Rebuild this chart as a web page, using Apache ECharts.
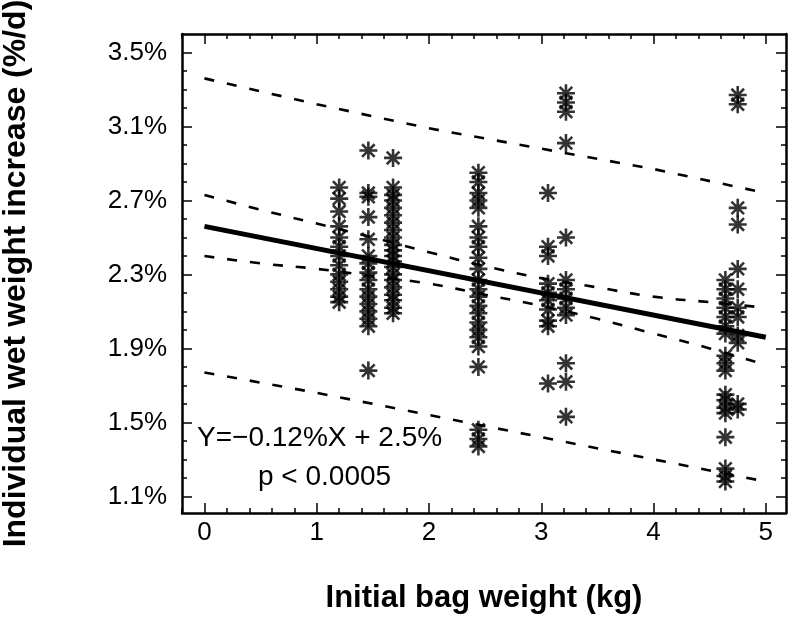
<!DOCTYPE html>
<html>
<head>
<meta charset="utf-8">
<script src="https://cdn.jsdelivr.net/npm/echarts@6/dist/echarts.min.js"></script>
<style>
  html, body { margin: 0; padding: 0; background: #fff; }
  #main { width: 796px; height: 626px; }
</style>
</head>
<body>
<div id="main"></div>
<script>
// tick values
const xMajor = [0, 1, 2, 3, 4, 5];
const xMinor = [-0.2, 0.2, 0.4, 0.6, 0.8, 1.2, 1.4, 1.6, 1.8, 2.2, 2.4, 2.6, 2.8, 3.2, 3.4, 3.6, 3.8, 4.2, 4.4, 4.6, 4.8];
const yMajor = [1.1, 1.5, 1.9, 2.3, 2.7, 3.1, 3.5];
const yMinor = [1.2, 1.3, 1.4, 1.6, 1.7, 1.8, 2.0, 2.1, 2.2, 2.4, 2.5, 2.6, 2.8, 2.9, 3.0, 3.2, 3.3, 3.4];

// observations, by initial bag weight (kg)
const bagWeights = [1.2, 1.46, 1.68, 2.44, 3.06, 3.22, 4.64, 4.75];
const growth = [
  [2.77, 2.71, 2.64, 2.56, 2.5, 2.45, 2.4, 2.35, 2.3, 2.26, 2.22, 2.18, 2.15],
  [2.97, 2.74, 2.72, 2.61, 2.49, 2.4, 2.36, 2.31, 2.27, 2.22, 2.18, 2.14, 2.1, 2.06, 2.02, 1.78],
  [2.93, 2.77, 2.73, 2.7, 2.66, 2.62, 2.58, 2.54, 2.5, 2.46, 2.43, 2.4, 2.37, 2.34, 2.3, 2.27, 2.23, 2.19, 2.16, 2.12, 2.09],
  [2.85, 2.8, 2.74, 2.7, 2.66, 2.56, 2.5, 2.45, 2.39, 2.33, 2.27, 2.22, 2.18, 2.13, 2.09, 2.04, 2.0, 1.96, 1.91, 1.8, 1.46, 1.41, 1.37],
  [2.74, 2.45, 2.4, 2.25, 2.2, 2.16, 2.11, 2.05, 2.02, 1.71],
  [3.28, 3.23, 3.18, 3.01, 2.5, 2.27, 2.22, 2.17, 2.12, 2.08, 1.82, 1.72, 1.53],
  [2.27, 2.22, 2.17, 2.12, 2.07, 2.02, 1.98, 1.86, 1.82, 1.78, 1.65, 1.62, 1.58, 1.55, 1.42, 1.25, 1.21, 1.18],
  [3.27, 3.22, 2.66, 2.57, 2.33, 2.22, 2.12, 2.07, 1.97, 1.93, 1.6, 1.57]
];

// regression line
const fitX = [0, 5];
const fitY = [2.56, 1.96];

// confidence and prediction bands
const bandX = [0, 0.5, 1, 1.5, 2, 2.5, 3, 3.5, 4, 4.5, 5];
const confUpper = [2.73, 2.65, 2.575, 2.5, 2.42, 2.345, 2.28, 2.23, 2.18, 2.15, 2.12];
const confLower = [2.4, 2.36, 2.33, 2.29, 2.25, 2.19, 2.13, 2.06, 1.98, 1.9, 1.81];
const predX = [0, 1, 2, 3, 4, 5];
const predUpper = [3.36, 3.22, 3.09, 2.98, 2.87, 2.74];
const predLower = [1.77, 1.66, 1.54, 1.42, 1.3, 1.18];

const font = "'Liberation Sans', Arial, sans-serif";
const ink = "#000";

const zip = (xs, ys) => xs.map((x, i) => [x, ys[i]]);
let points = [];
bagWeights.forEach((w, i) => {
  growth[i].forEach(v => points.push([w, v]));
});

const asterisk = "path://M10,0L10,20M0,10L20,10M3,3L17,17M3,17L17,3";

function xAx(pos, ticks, len, labels, line) {
  return {
    type: "value", position: pos, min: -0.2, max: 5.18,
    axisLine: { show: line, onZero: false, lineStyle: { color: ink, width: 2.5 } },
    axisTick: { show: true, inside: true, length: len, customValues: ticks, lineStyle: { color: ink, width: 1.5 } },
    axisLabel: labels ? { show: true, customValues: ticks, color: ink, fontFamily: font, fontSize: 26, margin: 7 } : { show: false },
    splitLine: { show: false }
  };
}
function yAx(pos, ticks, len, labels, line) {
  return {
    type: "value", position: pos, min: 1.01, max: 3.6,
    axisLine: { show: line, onZero: false, lineStyle: { color: ink, width: 2.5 } },
    axisTick: { show: true, inside: true, length: len, customValues: ticks, lineStyle: { color: ink, width: 1.5 } },
    axisLabel: labels ? { show: true, customValues: ticks, color: ink, fontFamily: font, fontSize: 26, margin: 15, formatter: v => v.toFixed(1) + "%" } : { show: false },
    splitLine: { show: false }
  };
}

const xAxes = [
  xAx("bottom", xMajor, 10, true, true),
  xAx("bottom", xMinor, 5, false, false),
  xAx("top", xMajor, 10, false, true),
  xAx("top", xMinor, 5, false, false)
];
xAxes[0].name = "Initial bag weight (kg)";
xAxes[0].nameLocation = "middle";
xAxes[0].nameGap = 70;
xAxes[0].nameTextStyle = { color: ink, fontFamily: font, fontSize: 31, fontWeight: "bold" };

const yAxes = [
  yAx("left", yMajor, 10, true, true),
  yAx("left", yMinor, 5, false, false),
  yAx("right", yMajor, 10, false, true),
  yAx("right", yMinor, 5, false, false)
];
yAxes[0].name = "Individual wet weight increase (%/d)";
yAxes[0].nameLocation = "middle";
yAxes[0].nameGap = 150;
yAxes[0].nameTextStyle = { color: ink, fontFamily: font, fontSize: 32, fontWeight: "bold" };

const dashed = { color: ink, width: 2.6, type: [10, 13] };

const chart = echarts.init(document.getElementById("main"), null, { renderer: "canvas" });
chart.setOption({
  backgroundColor: "#fff",
  animation: false,
  grid: { left: 182, right: 10, top: 34, bottom: 113, outerBoundsMode: "none", containLabel: false },
  xAxis: xAxes,
  yAxis: yAxes,
  graphic: [
    { type: "text", left: 197, top: 424, style: { text: "Y=\u22120.12%X + 2.5%", fill: ink, font: "28px " + font } },
    { type: "text", left: 258, top: 463, style: { text: "p < 0.0005", fill: ink, font: "28px " + font } }
  ],
  series: [
    { type: "line", data: zip(predX, predUpper), showSymbol: false, lineStyle: dashed, z: 3 },
    { type: "line", data: zip(predX, predLower), showSymbol: false, lineStyle: dashed, z: 3 },
    { type: "line", data: zip(bandX, confUpper), smooth: true, showSymbol: false, lineStyle: dashed, z: 3 },
    { type: "line", data: zip(bandX, confLower), smooth: true, showSymbol: false, lineStyle: dashed, z: 3 },
    { type: "line", data: zip(fitX, fitY), showSymbol: false, lineStyle: { color: ink, width: 5 }, z: 4 },
    {
      type: "scatter", data: points, symbol: asterisk, symbolSize: 18, z: 5,
      itemStyle: { color: "transparent", borderColor: ink, borderWidth: 2.6 }
    }
  ]
});
</script>
</body>
</html>
